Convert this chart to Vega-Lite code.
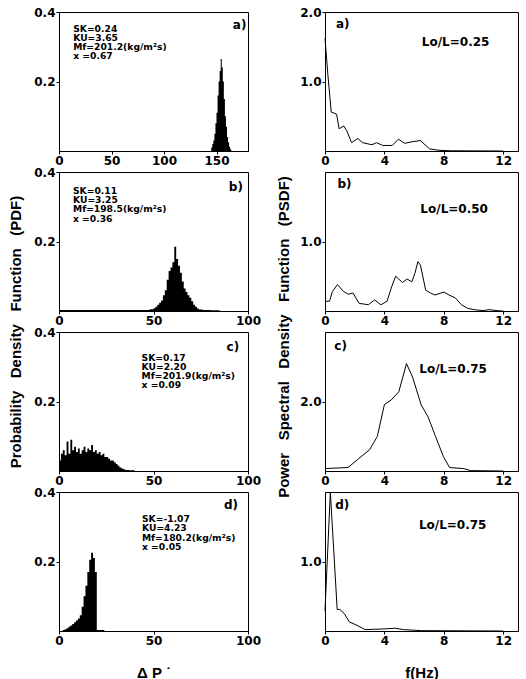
{
  "$schema": "https://vega.github.io/schema/vega-lite/v6.json",
  "background": "white",
  "padding": {"left": 9, "top": 5, "right": 2, "bottom": 2},
  "config": {
    "font": "Liberation Sans",
    "view": {"stroke": "black", "strokeWidth": 1},
    "axis": {"domainColor": "black", "domainWidth": 1, "tickColor": "black", "tickSize": 3, "labelFont": "DejaVu Sans", "labelFontWeight": "bold", "labelFontSize": 12, "labelColor": "black", "labelPadding": 1, "labelFlush": false, "labelOverlap": false, "grid": false, "titleFont": "Liberation Sans", "titleFontWeight": "bold", "titleFontSize": 15, "titleColor": "black"},
    "title": {"font": "Liberation Sans", "fontWeight": "bold", "fontSize": 15, "color": "black"},
    "text": {"font": "DejaVu Sans", "fontWeight": "bold", "color": "black"}
  },
  "datasets": {
    "pdf": [
      {"panel": "a", "dp": 144, "pdf": 0},
      {"panel": "a", "dp": 145, "pdf": 0.01},
      {"panel": "a", "dp": 146, "pdf": 0.02},
      {"panel": "a", "dp": 147, "pdf": 0.03},
      {"panel": "a", "dp": 148, "pdf": 0.05},
      {"panel": "a", "dp": 149, "pdf": 0.08},
      {"panel": "a", "dp": 150, "pdf": 0.11},
      {"panel": "a", "dp": 151, "pdf": 0.16},
      {"panel": "a", "dp": 152, "pdf": 0.2},
      {"panel": "a", "dp": 153, "pdf": 0.23},
      {"panel": "a", "dp": 154, "pdf": 0.265},
      {"panel": "a", "dp": 155, "pdf": 0.24},
      {"panel": "a", "dp": 156, "pdf": 0.2},
      {"panel": "a", "dp": 157, "pdf": 0.15},
      {"panel": "a", "dp": 158, "pdf": 0.1},
      {"panel": "a", "dp": 159, "pdf": 0.07},
      {"panel": "a", "dp": 160, "pdf": 0.04},
      {"panel": "a", "dp": 161, "pdf": 0.025},
      {"panel": "a", "dp": 162, "pdf": 0.012},
      {"panel": "a", "dp": 163, "pdf": 0.005},
      {"panel": "a", "dp": 164, "pdf": 0},
      {"panel": "b", "dp": 0, "pdf": 0.003},
      {"panel": "b", "dp": 48, "pdf": 0.005},
      {"panel": "b", "dp": 50, "pdf": 0.008},
      {"panel": "b", "dp": 51, "pdf": 0.012},
      {"panel": "b", "dp": 52, "pdf": 0.018},
      {"panel": "b", "dp": 53, "pdf": 0.024},
      {"panel": "b", "dp": 54, "pdf": 0.03},
      {"panel": "b", "dp": 55, "pdf": 0.045},
      {"panel": "b", "dp": 56, "pdf": 0.06},
      {"panel": "b", "dp": 57, "pdf": 0.09},
      {"panel": "b", "dp": 58, "pdf": 0.115},
      {"panel": "b", "dp": 59, "pdf": 0.125},
      {"panel": "b", "dp": 60, "pdf": 0.14},
      {"panel": "b", "dp": 61, "pdf": 0.185},
      {"panel": "b", "dp": 62, "pdf": 0.15},
      {"panel": "b", "dp": 63, "pdf": 0.13},
      {"panel": "b", "dp": 64, "pdf": 0.11},
      {"panel": "b", "dp": 65, "pdf": 0.085},
      {"panel": "b", "dp": 66, "pdf": 0.065},
      {"panel": "b", "dp": 67, "pdf": 0.055},
      {"panel": "b", "dp": 68, "pdf": 0.045},
      {"panel": "b", "dp": 69, "pdf": 0.038},
      {"panel": "b", "dp": 70, "pdf": 0.028},
      {"panel": "b", "dp": 71, "pdf": 0.018},
      {"panel": "b", "dp": 72, "pdf": 0.012},
      {"panel": "b", "dp": 73, "pdf": 0.007},
      {"panel": "b", "dp": 74, "pdf": 0.004},
      {"panel": "b", "dp": 76, "pdf": 0.003},
      {"panel": "b", "dp": 80, "pdf": 0.002},
      {"panel": "b", "dp": 85, "pdf": 0},
      {"panel": "c", "dp": 0, "pdf": 0.03},
      {"panel": "c", "dp": 1, "pdf": 0.05},
      {"panel": "c", "dp": 2, "pdf": 0.06},
      {"panel": "c", "dp": 3, "pdf": 0.045},
      {"panel": "c", "dp": 4, "pdf": 0.085},
      {"panel": "c", "dp": 5, "pdf": 0.05},
      {"panel": "c", "dp": 6, "pdf": 0.09},
      {"panel": "c", "dp": 7, "pdf": 0.06},
      {"panel": "c", "dp": 8, "pdf": 0.07},
      {"panel": "c", "dp": 9, "pdf": 0.055},
      {"panel": "c", "dp": 10, "pdf": 0.065},
      {"panel": "c", "dp": 11, "pdf": 0.05},
      {"panel": "c", "dp": 12, "pdf": 0.06},
      {"panel": "c", "dp": 13, "pdf": 0.07},
      {"panel": "c", "dp": 14, "pdf": 0.055},
      {"panel": "c", "dp": 15, "pdf": 0.065},
      {"panel": "c", "dp": 16, "pdf": 0.06},
      {"panel": "c", "dp": 17, "pdf": 0.075},
      {"panel": "c", "dp": 18, "pdf": 0.055},
      {"panel": "c", "dp": 19, "pdf": 0.06},
      {"panel": "c", "dp": 20, "pdf": 0.05},
      {"panel": "c", "dp": 21, "pdf": 0.055},
      {"panel": "c", "dp": 22, "pdf": 0.045},
      {"panel": "c", "dp": 23, "pdf": 0.05},
      {"panel": "c", "dp": 24, "pdf": 0.04},
      {"panel": "c", "dp": 25, "pdf": 0.04},
      {"panel": "c", "dp": 26, "pdf": 0.035},
      {"panel": "c", "dp": 27, "pdf": 0.03},
      {"panel": "c", "dp": 28, "pdf": 0.03},
      {"panel": "c", "dp": 29, "pdf": 0.025},
      {"panel": "c", "dp": 30, "pdf": 0.02},
      {"panel": "c", "dp": 31, "pdf": 0.015},
      {"panel": "c", "dp": 32, "pdf": 0.01},
      {"panel": "c", "dp": 33, "pdf": 0.007},
      {"panel": "c", "dp": 34, "pdf": 0.005},
      {"panel": "c", "dp": 35, "pdf": 0.003},
      {"panel": "c", "dp": 37, "pdf": 0.002},
      {"panel": "c", "dp": 40, "pdf": 0},
      {"panel": "d", "dp": 1, "pdf": 0},
      {"panel": "d", "dp": 2, "pdf": 0.003},
      {"panel": "d", "dp": 3, "pdf": 0.005},
      {"panel": "d", "dp": 4, "pdf": 0.008},
      {"panel": "d", "dp": 5, "pdf": 0.012},
      {"panel": "d", "dp": 6, "pdf": 0.016},
      {"panel": "d", "dp": 7, "pdf": 0.02},
      {"panel": "d", "dp": 8, "pdf": 0.025},
      {"panel": "d", "dp": 9, "pdf": 0.03},
      {"panel": "d", "dp": 10, "pdf": 0.036},
      {"panel": "d", "dp": 11, "pdf": 0.045},
      {"panel": "d", "dp": 12, "pdf": 0.07},
      {"panel": "d", "dp": 13, "pdf": 0.1},
      {"panel": "d", "dp": 14, "pdf": 0.13},
      {"panel": "d", "dp": 15, "pdf": 0.17},
      {"panel": "d", "dp": 16, "pdf": 0.205},
      {"panel": "d", "dp": 17, "pdf": 0.225},
      {"panel": "d", "dp": 18, "pdf": 0.21},
      {"panel": "d", "dp": 19, "pdf": 0.17},
      {"panel": "d", "dp": 20, "pdf": 0.003},
      {"panel": "d", "dp": 24, "pdf": 0}
    ],
    "psd": [
      {"panel": "a", "f": 0, "psd": 1.62},
      {"panel": "a", "f": 0.2, "psd": 1.08},
      {"panel": "a", "f": 0.42, "psd": 0.56},
      {"panel": "a", "f": 0.78, "psd": 0.53},
      {"panel": "a", "f": 0.95, "psd": 0.32},
      {"panel": "a", "f": 1.26, "psd": 0.36},
      {"panel": "a", "f": 1.47, "psd": 0.29},
      {"panel": "a", "f": 1.79, "psd": 0.12},
      {"panel": "a", "f": 2.21, "psd": 0.18},
      {"panel": "a", "f": 2.53, "psd": 0.12},
      {"panel": "a", "f": 3.16, "psd": 0.09},
      {"panel": "a", "f": 3.47, "psd": 0.12},
      {"panel": "a", "f": 3.89, "psd": 0.08},
      {"panel": "a", "f": 4.53, "psd": 0.08},
      {"panel": "a", "f": 4.95, "psd": 0.17},
      {"panel": "a", "f": 5.37, "psd": 0.11},
      {"panel": "a", "f": 5.79, "psd": 0.13},
      {"panel": "a", "f": 6.42, "psd": 0.15},
      {"panel": "a", "f": 7.05, "psd": 0.03},
      {"panel": "a", "f": 7.68, "psd": 0.01},
      {"panel": "a", "f": 8.5, "psd": 0.003},
      {"panel": "a", "f": 10, "psd": 0.002},
      {"panel": "a", "f": 12, "psd": 0},
      {"panel": "b", "f": 0, "psd": 0.14},
      {"panel": "b", "f": 0.3, "psd": 0.14},
      {"panel": "b", "f": 0.5, "psd": 0.28},
      {"panel": "b", "f": 0.84, "psd": 0.38},
      {"panel": "b", "f": 1.25, "psd": 0.28},
      {"panel": "b", "f": 1.57, "psd": 0.24},
      {"panel": "b", "f": 1.88, "psd": 0.26},
      {"panel": "b", "f": 2.3, "psd": 0.11},
      {"panel": "b", "f": 2.92, "psd": 0.09},
      {"panel": "b", "f": 3.34, "psd": 0.16},
      {"panel": "b", "f": 3.76, "psd": 0.09},
      {"panel": "b", "f": 4.18, "psd": 0.14},
      {"panel": "b", "f": 4.49, "psd": 0.35},
      {"panel": "b", "f": 4.76, "psd": 0.5},
      {"panel": "b", "f": 5.22, "psd": 0.41},
      {"panel": "b", "f": 5.53, "psd": 0.46},
      {"panel": "b", "f": 5.85, "psd": 0.42},
      {"panel": "b", "f": 6.05, "psd": 0.54},
      {"panel": "b", "f": 6.26, "psd": 0.71},
      {"panel": "b", "f": 6.43, "psd": 0.66},
      {"panel": "b", "f": 6.78, "psd": 0.3},
      {"panel": "b", "f": 7.1, "psd": 0.26},
      {"panel": "b", "f": 7.41, "psd": 0.23},
      {"panel": "b", "f": 7.83, "psd": 0.26},
      {"panel": "b", "f": 8.04, "psd": 0.27},
      {"panel": "b", "f": 8.35, "psd": 0.23},
      {"panel": "b", "f": 8.77, "psd": 0.19},
      {"panel": "b", "f": 9.19, "psd": 0.09},
      {"panel": "b", "f": 9.6, "psd": 0.04},
      {"panel": "b", "f": 10.02, "psd": 0.02},
      {"panel": "b", "f": 10.65, "psd": 0.005},
      {"panel": "b", "f": 11.06, "psd": 0.02},
      {"panel": "b", "f": 11.6, "psd": 0.005},
      {"panel": "b", "f": 12, "psd": 0},
      {"panel": "c", "f": 0, "psd": 0.07},
      {"panel": "c", "f": 1.55, "psd": 0.1},
      {"panel": "c", "f": 2.17, "psd": 0.32},
      {"panel": "c", "f": 3.0, "psd": 0.61},
      {"panel": "c", "f": 3.52, "psd": 0.99},
      {"panel": "c", "f": 4.0, "psd": 1.91},
      {"panel": "c", "f": 4.45, "psd": 2.04},
      {"panel": "c", "f": 4.97, "psd": 2.28},
      {"panel": "c", "f": 5.49, "psd": 3.09},
      {"panel": "c", "f": 5.9, "psd": 2.7},
      {"panel": "c", "f": 6.48, "psd": 1.9},
      {"panel": "c", "f": 6.94, "psd": 1.56},
      {"panel": "c", "f": 7.45, "psd": 0.99},
      {"panel": "c", "f": 7.97, "psd": 0.42},
      {"panel": "c", "f": 8.39, "psd": 0.1},
      {"panel": "c", "f": 9.32, "psd": 0.07},
      {"panel": "c", "f": 9.83, "psd": 0.01},
      {"panel": "c", "f": 12, "psd": 0},
      {"panel": "d", "f": 0, "psd": 0.29},
      {"panel": "d", "f": 0.36, "psd": 2.0},
      {"panel": "d", "f": 0.82, "psd": 0.31},
      {"panel": "d", "f": 1.0, "psd": 0.31},
      {"panel": "d", "f": 1.3, "psd": 0.25},
      {"panel": "d", "f": 1.64, "psd": 0.13},
      {"panel": "d", "f": 2.08, "psd": 0.09},
      {"panel": "d", "f": 2.7, "psd": 0.02},
      {"panel": "d", "f": 4.0, "psd": 0.03},
      {"panel": "d", "f": 4.7, "psd": 0.04},
      {"panel": "d", "f": 5.3, "psd": 0.02},
      {"panel": "d", "f": 6.5, "psd": 0.005},
      {"panel": "d", "f": 12, "psd": 0}
    ]
  },
  "spacing": 15,
  "hconcat": [
    {
      "bounds": "flush",
      "spacing": 21,
      "title": {"text": "Probability \u00a0\u00a0Density \u00a0\u00a0Function \u00a0\u00a0(PDF)", "orient": "left", "anchor": "middle", "offset": 9, "dx": 11},
      "vconcat": [
        {
          "width": 189, "height": 139,
          "layer": [
            {"data": {"name": "pdf"}, "transform": [{"filter": "datum.panel == 'a'"}],
             "mark": {"type": "area", "interpolate": "step-after", "color": "black"},
             "encoding": {
               "x": {"field": "dp", "type": "quantitative", "scale": {"domain": [0, 180]}, "axis": {"values": [0, 50, 100, 150], "title": null}},
               "y": {"field": "pdf", "type": "quantitative", "scale": {"domain": [0, 0.4]}, "axis": {"values": [0.2, 0.4], "title": null}}}},
            {"data": {"values": [{}]},
             "mark": {"type": "text", "text": ["SK=0.24", "KU=3.65", "Mf=201.2(kg/m²s)", "x =0.67"], "align": "left", "baseline": "top", "fontSize": 9.2, "lineHeight": 9.2},
             "encoding": {"x": {"datum": 13.5}, "y": {"datum": 0.363}}},
            {"data": {"values": [{}]},
             "mark": {"type": "text", "text": "a)", "align": "center", "baseline": "middle", "fontSize": 12},
             "encoding": {"x": {"datum": 172}, "y": {"datum": 0.363}}}
          ]
        },
        {
          "width": 189, "height": 139,
          "layer": [
            {"data": {"name": "pdf"}, "transform": [{"filter": "datum.panel == 'b'"}],
             "mark": {"type": "area", "interpolate": "step-after", "color": "black"},
             "encoding": {
               "x": {"field": "dp", "type": "quantitative", "scale": {"domain": [0, 100]}, "axis": {"values": [0, 50, 100], "title": null}},
               "y": {"field": "pdf", "type": "quantitative", "scale": {"domain": [0, 0.4]}, "axis": {"values": [0.2, 0.4], "title": null}}}},
            {"data": {"values": [{}]},
             "mark": {"type": "text", "text": ["SK=0.11", "KU=3.25", "Mf=198.5(kg/m²s)", "x =0.36"], "align": "left", "baseline": "top", "fontSize": 9.2, "lineHeight": 9.2},
             "encoding": {"x": {"datum": 7.4}, "y": {"datum": 0.357}}},
            {"data": {"values": [{}]},
             "mark": {"type": "text", "text": "b)", "align": "center", "baseline": "middle", "fontSize": 12},
             "encoding": {"x": {"datum": 93.6}, "y": {"datum": 0.357}}}
          ]
        },
        {
          "width": 189, "height": 139,
          "layer": [
            {"data": {"name": "pdf"}, "transform": [{"filter": "datum.panel == 'c'"}],
             "mark": {"type": "area", "interpolate": "step-after", "color": "black"},
             "encoding": {
               "x": {"field": "dp", "type": "quantitative", "scale": {"domain": [0, 100]}, "axis": {"values": [0, 50, 100], "title": null}},
               "y": {"field": "pdf", "type": "quantitative", "scale": {"domain": [0, 0.4]}, "axis": {"values": [0.2, 0.4], "title": null}}}},
            {"data": {"values": [{}]},
             "mark": {"type": "text", "text": ["SK=0.17", "KU=2.20", "Mf=201.9(kg/m²s)", "x =0.09"], "align": "left", "baseline": "top", "fontSize": 9.2, "lineHeight": 9.2},
             "encoding": {"x": {"datum": 43.7}, "y": {"datum": 0.338}}},
            {"data": {"values": [{}]},
             "mark": {"type": "text", "text": "c)", "align": "center", "baseline": "middle", "fontSize": 12},
             "encoding": {"x": {"datum": 92}, "y": {"datum": 0.357}}}
          ]
        },
        {
          "width": 189, "height": 139,
          "layer": [
            {"data": {"name": "pdf"}, "transform": [{"filter": "datum.panel == 'd'"}],
             "mark": {"type": "area", "interpolate": "step-after", "color": "black"},
             "encoding": {
               "x": {"field": "dp", "type": "quantitative", "scale": {"domain": [0, 100]}, "axis": {"values": [0, 50, 100], "title": "Δ P ˙", "titlePadding": 19}},
               "y": {"field": "pdf", "type": "quantitative", "scale": {"domain": [0, 0.4]}, "axis": {"values": [0.2, 0.4], "title": null}}}},
            {"data": {"values": [{}]},
             "mark": {"type": "text", "text": ["SK=-1.07", "KU=4.23", "Mf=180.2(kg/m²s)", "x =0.05"], "align": "left", "baseline": "top", "fontSize": 9.2, "lineHeight": 9.2},
             "encoding": {"x": {"datum": 43.9}, "y": {"datum": 0.333}}},
            {"data": {"values": [{}]},
             "mark": {"type": "text", "text": "d)", "align": "center", "baseline": "middle", "fontSize": 12},
             "encoding": {"x": {"datum": 91}, "y": {"datum": 0.362}}}
          ]
        }
      ]
    },
    {
      "bounds": "flush",
      "spacing": 21,
      "title": {"text": "Power \u00a0\u00a0Spectral \u00a0\u00a0Density \u00a0\u00a0Function \u00a0\u00a0(PSDF)", "orient": "left", "anchor": "middle", "offset": 7, "dx": 6},
      "vconcat": [
        {
          "width": 193, "height": 139,
          "layer": [
            {"data": {"name": "psd"}, "transform": [{"filter": "datum.panel == 'a'"}],
             "mark": {"type": "line", "color": "black", "strokeWidth": 1},
             "encoding": {
               "x": {"field": "f", "type": "quantitative", "scale": {"domain": [0, 12.2]}, "axis": {"values": [0, 4, 8, 12], "title": null}},
               "y": {"field": "psd", "type": "quantitative", "scale": {"domain": [0, 2]}, "axis": {"values": [1, 2], "format": ".1f", "title": null}}}},
            {"data": {"values": [{}]},
             "mark": {"type": "text", "text": "a)", "align": "left", "baseline": "middle", "fontSize": 12},
             "encoding": {"x": {"datum": 0.74}, "y": {"datum": 1.83}}},
            {"data": {"values": [{}]},
             "mark": {"type": "text", "text": "Lo/L=0.25", "align": "center", "baseline": "middle", "fontSize": 12},
             "encoding": {"x": {"datum": 8.8}, "y": {"datum": 1.57}}}
          ]
        },
        {
          "width": 193, "height": 139,
          "layer": [
            {"data": {"name": "psd"}, "transform": [{"filter": "datum.panel == 'b'"}],
             "mark": {"type": "line", "color": "black", "strokeWidth": 1},
             "encoding": {
               "x": {"field": "f", "type": "quantitative", "scale": {"domain": [0, 12.2]}, "axis": {"values": [0, 4, 8, 12], "title": null}},
               "y": {"field": "psd", "type": "quantitative", "scale": {"domain": [0, 2]}, "axis": {"values": [1], "format": ".1f", "title": null}}}},
            {"data": {"values": [{}]},
             "mark": {"type": "text", "text": "b)", "align": "left", "baseline": "middle", "fontSize": 12},
             "encoding": {"x": {"datum": 0.84}, "y": {"datum": 1.83}}},
            {"data": {"values": [{}]},
             "mark": {"type": "text", "text": "Lo/L=0.50", "align": "center", "baseline": "middle", "fontSize": 12},
             "encoding": {"x": {"datum": 8.7}, "y": {"datum": 1.47}}}
          ]
        },
        {
          "width": 193, "height": 139,
          "layer": [
            {"data": {"name": "psd"}, "transform": [{"filter": "datum.panel == 'c'"}],
             "mark": {"type": "line", "color": "black", "strokeWidth": 1},
             "encoding": {
               "x": {"field": "f", "type": "quantitative", "scale": {"domain": [0, 12.2]}, "axis": {"values": [0, 4, 8, 12], "title": null}},
               "y": {"field": "psd", "type": "quantitative", "scale": {"domain": [0, 4]}, "axis": {"values": [2], "format": ".1f", "title": null}}}},
            {"data": {"values": [{}]},
             "mark": {"type": "text", "text": "c)", "align": "left", "baseline": "middle", "fontSize": 12},
             "encoding": {"x": {"datum": 0.63}, "y": {"datum": 3.61}}},
            {"data": {"values": [{}]},
             "mark": {"type": "text", "text": "Lo/L=0.75", "align": "center", "baseline": "middle", "fontSize": 12},
             "encoding": {"x": {"datum": 8.63}, "y": {"datum": 2.94}}}
          ]
        },
        {
          "width": 193, "height": 139,
          "layer": [
            {"data": {"name": "psd"}, "transform": [{"filter": "datum.panel == 'd'"}],
             "mark": {"type": "line", "color": "black", "strokeWidth": 1},
             "encoding": {
               "x": {"field": "f", "type": "quantitative", "scale": {"domain": [0, 12.2]}, "axis": {"values": [0, 4, 8, 12], "title": "f(Hz)", "titlePadding": 19}},
               "y": {"field": "psd", "type": "quantitative", "scale": {"domain": [0, 2]}, "axis": {"values": [1], "format": ".1f", "title": null}}}},
            {"data": {"values": [{}]},
             "mark": {"type": "text", "text": "d)", "align": "left", "baseline": "middle", "fontSize": 12},
             "encoding": {"x": {"datum": 0.69}, "y": {"datum": 1.81}}},
            {"data": {"values": [{}]},
             "mark": {"type": "text", "text": "Lo/L=0.75", "align": "center", "baseline": "middle", "fontSize": 12},
             "encoding": {"x": {"datum": 8.6}, "y": {"datum": 1.52}}}
          ]
        }
      ]
    }
  ]
}
